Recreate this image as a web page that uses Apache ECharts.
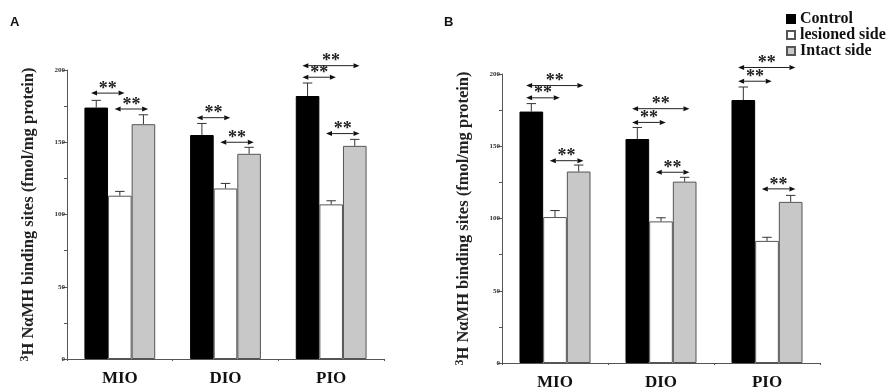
<!DOCTYPE html>
<html>
<head>
<meta charset="utf-8">
<script src="https://cdn.jsdelivr.net/npm/echarts@6/dist/echarts.min.js"></script>
<style>
  html, body { margin: 0; padding: 0; background: #fff; }
  #chart { width: 892px; height: 392px; }
</style>
</head>
<body>
<div id="chart"></div>
<script>
// data
const categories = ['MIO', 'DIO', 'PIO'];
const seriesNames = ['Control', 'lesioned side', 'Intact side'];

const controlA = [174, 155, 182];
const controlAErr = [5, 8, 9];
const lesionedA = [113, 118, 107];
const lesionedAErr = [3, 3.5, 2.5];
const intactA = [162.5, 142, 147.5];
const intactAErr = [6.5, 4.5, 4.5];

const controlB = [174, 155, 182];
const controlBErr = [5.5, 8, 9];
const lesionedB = [101, 98, 84.5];
const lesionedBErr = [4.5, 2.5, 2.5];
const intactB = [132.5, 125.5, 111.5];
const intactBErr = [4.5, 3, 4.5];

// significance arrows: [category, from bar, to bar, y level]
const sigA = [[0, 0, 1, 184], [0, 1, 2, 173], [1, 0, 1, 167], [1, 1, 2, 150],
              [2, 0, 2, 203], [2, 0, 1, 195], [2, 1, 2, 156]];
const sigB = [[0, 0, 2, 192], [0, 0, 1, 183.5], [0, 1, 2, 140],
              [1, 0, 2, 176], [1, 0, 1, 166.5], [1, 1, 2, 132],
              [2, 0, 2, 204.5], [2, 0, 1, 195], [2, 1, 2, 120.5]];

const serif = '"Liberation Serif", "DejaVu Serif", serif';
const axisColor = '#555';
const catGap = 0.33;
const barStyles = [
    { color: '#000', borderColor: '#000', borderWidth: 1 },
    { color: '#fff', borderColor: '#555', borderWidth: 1 },
    { color: '#c8c8c8', borderColor: '#555', borderWidth: 1 }
];

const chart = echarts.init(document.getElementById('chart'));

function barX(api, cat, bar) {
    const center = api.coord([cat, 0])[0];
    const band = api.size([1, 0])[0];
    const bw = band * (1 - catGap) / 3;
    return { x: center + (bar - 1) * bw, bw: bw };
}

function errorItem(params, api) {
    const cat = api.value(0), bar = api.value(1);
    const p = barX(api, cat, bar);
    const top = api.coord([cat, api.value(2) + api.value(3)])[1];
    const base = api.coord([cat, api.value(2)])[1];
    const half = p.bw * 0.2;
    const st = { stroke: '#333', lineWidth: 1 };
    return {
        type: 'group',
        children: [
            { type: 'line', shape: { x1: p.x, y1: base, x2: p.x, y2: top }, style: st },
            { type: 'line', shape: { x1: p.x - half, y1: top, x2: p.x + half, y2: top }, style: st }
        ]
    };
}

function sigItem(params, api) {
    const cat = api.value(0);
    const a = barX(api, cat, api.value(1));
    const b = barX(api, cat, api.value(2));
    const x1 = a.x - a.bw * 0.22;
    const x2 = b.x + b.bw * 0.2;
    const y = api.coord([cat, api.value(3)])[1];
    const h = 6, w = 2.5;
    return {
        type: 'group',
        children: [
            { type: 'line', shape: { x1: x1 + h, y1: y, x2: x2 - h, y2: y }, style: { stroke: '#222', lineWidth: 1 } },
            { type: 'polygon', shape: { points: [[x1, y], [x1 + h, y - w], [x1 + h, y + w]] }, style: { fill: '#111' } },
            { type: 'polygon', shape: { points: [[x2, y], [x2 - h, y - w], [x2 - h, y + w]] }, style: { fill: '#111' } },
            { type: 'text', x: (x1 + x2) / 2, y: y + 5,
              style: { text: '**', font: 'bold 18px ' + serif, fill: '#222', align: 'center', verticalAlign: 'bottom' } }
        ]
    };
}

function errData(vals, errs, bar) {
    return vals.map((v, i) => [i, bar, v, errs[i]]);
}

function yAxis(gridIndex) {
    return {
        gridIndex: gridIndex,
        type: 'value', min: 0, max: 200, interval: 50,
        name: '{sup|3}H N\u03b1MH binding sites (fmol/mg protein)',
        nameLocation: 'middle', nameRotate: 90, nameGap: 28,
        nameTextStyle: {
            fontFamily: serif, fontWeight: 'bold', fontSize: 16.5, color: '#222',
            rich: { sup: { fontFamily: serif, fontWeight: 'bold', fontSize: 12, color: '#222', verticalAlign: 'top', padding: [0, 0, 8, 0] } }
        },
        axisLine: { show: true, lineStyle: { color: axisColor } },
        axisTick: { show: true, length: 4, lineStyle: { color: axisColor } },
        minorTick: { show: true, splitNumber: 2, length: 3, lineStyle: { color: axisColor } },
        axisLabel: { fontFamily: serif, fontWeight: 'bold', fontSize: 7, color: '#333', margin: 2 },
        splitLine: { show: false }
    };
}

function xAxis(gridIndex) {
    return {
        gridIndex: gridIndex,
        type: 'category', data: categories,
        axisLine: { lineStyle: { color: axisColor } },
        axisTick: { show: true, length: 2, lineStyle: { color: axisColor } },
        axisLabel: { fontFamily: serif, fontWeight: 'bold', fontSize: 17, color: '#111', margin: 11 }
    };
}

function panel(idx, vals, errs, sig) {
    const out = [];
    vals.forEach((v, k) => {
        out.push({
            name: seriesNames[k], type: 'bar', xAxisIndex: idx, yAxisIndex: idx,
            data: v, barGap: '0%', barCategoryGap: (catGap * 100) + '%',
            itemStyle: barStyles[k], emphasis: { disabled: true }
        });
    });
    vals.forEach((v, k) => {
        out.push({
            type: 'custom', xAxisIndex: idx, yAxisIndex: idx,
            renderItem: errorItem, data: errData(v, errs[k], k), z: 5, silent: true
        });
    });
    out.push({
        type: 'custom', xAxisIndex: idx, yAxisIndex: idx,
        renderItem: sigItem, data: sig, z: 6, silent: true
    });
    return out;
}

chart.setOption({
    animation: false,
    backgroundColor: '#fff',
    grid: [
        { left: 67, top: 70, width: 317, height: 289 },
        { left: 502, top: 74, width: 318, height: 289 }
    ],
    xAxis: [xAxis(0), xAxis(1)],
    yAxis: [yAxis(0), yAxis(1)],
    legend: {
        data: seriesNames, orient: 'vertical', left: 781, top: 6,
        icon: 'rect', itemWidth: 8, itemHeight: 8, itemGap: 0,
        textStyle: { fontFamily: serif, fontWeight: 'bold', fontSize: 16, color: '#111', lineHeight: 16 }
    },
    graphic: [
        { type: 'text', left: 10, top: 16, style: { text: 'A', font: 'bold 13px "Liberation Sans", Arial, sans-serif', fill: '#111' } },
        { type: 'text', left: 444, top: 16, style: { text: 'B', font: 'bold 13px "Liberation Sans", Arial, sans-serif', fill: '#111' } }
    ],
    series: [].concat(
        panel(0, [controlA, lesionedA, intactA], [controlAErr, lesionedAErr, intactAErr], sigA),
        panel(1, [controlB, lesionedB, intactB], [controlBErr, lesionedBErr, intactBErr], sigB)
    )
});
</script>
</body>
</html>
